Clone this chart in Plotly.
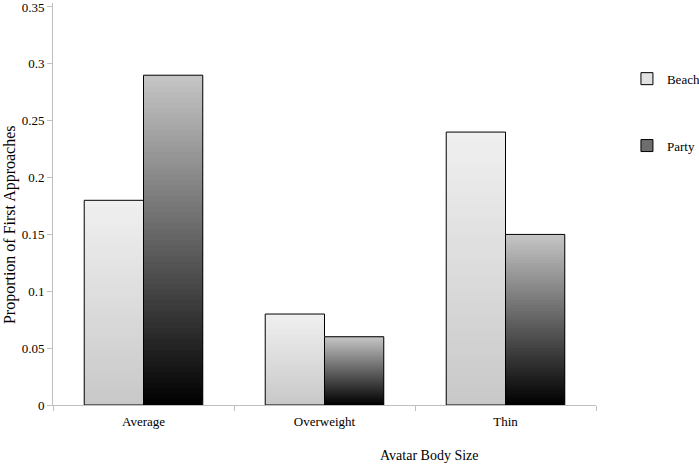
import plotly.graph_objects as go

categories = ["Average", "Overweight", "Thin"]
beach = [0.18, 0.08, 0.24]
party = [0.29, 0.06, 0.15]
y_ticks = [0, 0.05, 0.1, 0.15, 0.2, 0.25, 0.3, 0.35]
y_tick_labels = ["0", "0.05", "0.1", "0.15", "0.2", "0.25", "0.3", "0.35"]
x_title = "Avatar Body Size"
y_title = "Proportion of First Approaches"

FONT = "Liberation Serif"
N = 60

def lerp(c0, c1, t):
    return "rgb(%d,%d,%d)" % tuple(round(a + (b - a) * t) for a, b in zip(c0, c1))

series = [
    ("Beach", beach, (200, 200, 200), (240, 240, 240), "rgb(225,225,225)"),
    ("Party", party, (0, 0, 0), (198, 198, 198), "rgb(110,110,110)"),
]

fig = go.Figure()
for gi, (name, vals, c_bot, c_top, legend_col) in enumerate(series):
    for k in range(N):
        t = (k + 0.5) / N
        h = [v / N * (1.8 if k < N - 1 else 1.0) for v in vals]
        fig.add_trace(go.Bar(
            x=categories, y=h, base=[v * k / N for v in vals],
            offsetgroup=name, marker=dict(color=lerp(c_bot, c_top, t), line=dict(width=0)),
            showlegend=False, hoverinfo="skip"))
    fig.add_trace(go.Bar(
        x=categories, y=vals, offsetgroup=name, name=name,
        marker=dict(color="rgba(0,0,0,0)", line=dict(color="black", width=1)),
        showlegend=False))
    fig.add_trace(go.Bar(
        x=[None], y=[None], name=name, legendgroup=name, showlegend=True,
        marker=dict(color=legend_col, line=dict(color="black", width=1))))

fig.update_layout(
    width=699, height=465,
    margin=dict(l=53, r=103, t=3, b=60, autoexpand=False),
    paper_bgcolor="white", plot_bgcolor="white",
    barmode="group", bargap=0.345, bargroupgap=0,
    font=dict(family=FONT, size=13, color="black"),
    showlegend=True,
    legend=dict(x=1.057, y=0.849, xanchor="left", yanchor="top",
                tracegroupgap=47, font=dict(family=FONT, size=13),
                bgcolor="rgba(0,0,0,0)", itemwidth=30),
    xaxis=dict(
        type="category", showline=True, linecolor="#bfbfbf", linewidth=1,
        ticks="outside", tickson="boundaries", ticklen=5, tickcolor="#bfbfbf",
        ticklabelstandoff=4,
        showgrid=False, zeroline=False, automargin=False,
    ),
    yaxis=dict(
        range=[0, 0.3535], tickvals=y_ticks, ticktext=y_tick_labels,
        showline=True, linecolor="#bfbfbf", linewidth=1,
        ticks="outside", ticklen=5, tickcolor="#bfbfbf",
        showgrid=False, zeroline=False, automargin=False,
        ticklabeloverflow="allow",
    ),
    annotations=[
        dict(text=x_title, xref="paper", yref="paper", x=0.694, y=-0.1256,
             xanchor="center", yanchor="middle", showarrow=False,
             font=dict(family=FONT, size=14)),
        dict(text=y_title, xref="paper", yref="paper", x=-0.0792, y=0.45,
             xanchor="center", yanchor="middle", textangle=-90, showarrow=False,
             font=dict(family=FONT, size=16)),
    ],
)

fig.write_html("out.html", config={"displayModeBar": False},
               post_script="document.body.style.margin='0';document.body.style.overflow='hidden';")
